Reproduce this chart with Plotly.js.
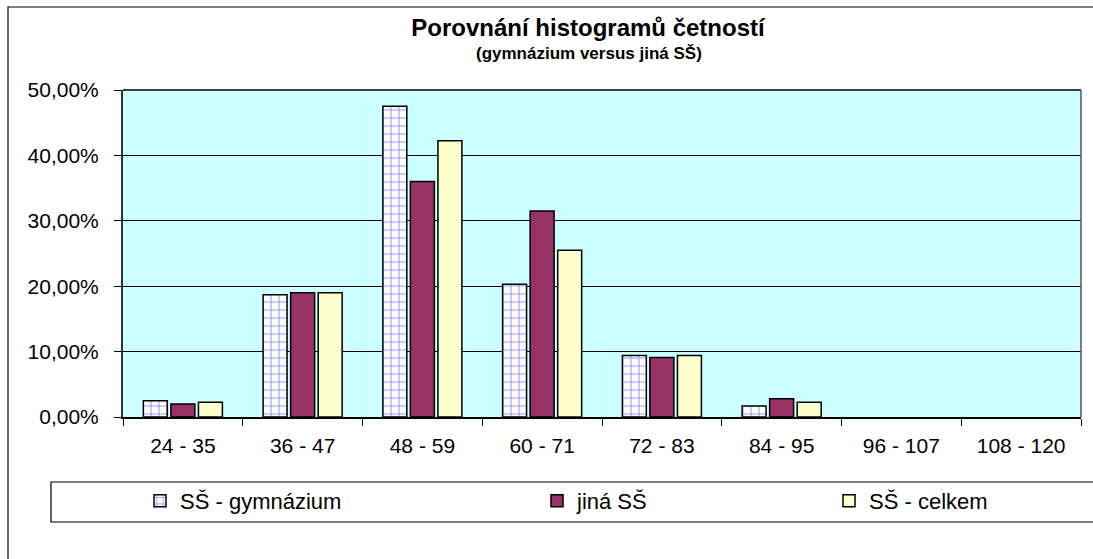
<!DOCTYPE html>
<html>
<head>
<meta charset="utf-8">
<script src="https://cdn.plot.ly/plotly-3.0.1.min.js"></script>
<style>html,body{margin:0;padding:0;background:#fff;}#chart{width:1093px;height:559px;}</style>
</head>
<body>
<div id="chart"></div>
<script>
// Data
const categories = ['24 - 35', '36 - 47', '48 - 59', '60 - 71', '72 - 83', '84 - 95', '96 - 107', '108 - 120'];
const gymnazium = [0.025, 0.187, 0.475, 0.203, 0.094, 0.017, 0, 0];
const jinaSS = [0.020, 0.190, 0.360, 0.315, 0.091, 0.028, 0, 0];
const celkem = [0.0225, 0.190, 0.4225, 0.255, 0.094, 0.0225, 0, 0];
const seriesNames = ['SŠ - gymnázium', 'jiná SŠ', 'SŠ - celkem'];
const titleText = 'Porovnání histogramů četností';
const subtitleText = '(gymnázium versus jiná SŠ)';

const FONT = 'Arial, "Liberation Sans", sans-serif';
// empty bins get no outline (Excel draws nothing for a zero bar)
const outlineFor = vals => ({color: '#000000', width: vals.map(v => (v > 0 ? 1.5 : 0))});

const traces = [
  {type: 'bar', name: seriesNames[0], x: categories, y: gymnazium, legend: 'legend',
   marker: {color: '#ffffff', line: outlineFor(gymnazium),
            pattern: {shape: '+', size: 8, solidity: 0.25, fgcolor: '#9999ff', bgcolor: '#ffffff'}}},
  {type: 'bar', name: seriesNames[1], x: categories, y: jinaSS, legend: 'legend2',
   marker: {color: '#993366', line: outlineFor(jinaSS)}},
  {type: 'bar', name: seriesNames[2], x: categories, y: celkem, legend: 'legend3',
   marker: {color: '#ffffcc', line: outlineFor(celkem)}}
];

const W = 1093, H = 559, L = 123, R = 12, T = 90, B = 142;
const pw = W - L - R, ph = H - T - B;
const px = x => (x - L) / pw;            // pixel x -> paper
const py = y => (H - B - y) / ph;        // pixel y -> paper

const legendFont = {family: FONT, size: 22, color: '#000000'};
function legendAt(xpix) {
  return {x: px(xpix), xanchor: 'left', y: py(501), yanchor: 'middle', orientation: 'h',
          bgcolor: 'rgba(0,0,0,0)', borderwidth: 0, font: legendFont, itemwidth: 30};
}

const layout = {
  width: W, height: H,
  margin: {l: L, r: R, t: T, b: B},
  paper_bgcolor: '#ffffff',
  plot_bgcolor: '#ccffff',
  separators: ', ',
  font: {family: FONT, color: '#000000'},
  title: {text: '<b>' + titleText + '</b>', xref: 'paper', x: px(588), xanchor: 'center',
          yref: 'container', y: 1 - 28 / H, yanchor: 'middle',
          font: {family: FONT, size: 24, color: '#000000'}},
  annotations: [
    {text: '<b>' + subtitleText + '</b>', xref: 'paper', yref: 'paper', x: px(589), y: py(53),
     xanchor: 'center', yanchor: 'middle', showarrow: false,
     font: {family: FONT, size: 17, color: '#000000'}}
  ],
  barmode: 'group',
  bargap: 0.31,
  bargroupgap: 0.13,
  showlegend: true,
  legend: legendAt(140),
  legend2: legendAt(537),
  legend3: legendAt(829),
  xaxis: {type: 'category', tickson: 'boundaries', ticks: 'outside', ticklen: 7, tickcolor: '#000000',
          tickwidth: 1, showline: true, linecolor: '#000000', linewidth: 1.5, showgrid: false,
          tickfont: {family: FONT, size: 21, color: '#000000'}, ticklabelstandoff: 9,
          fixedrange: true},
  yaxis: {range: [0, 0.5], dtick: 0.1, tick0: 0, tickformat: '.2%', ticks: 'outside', ticklen: 7,
          tickcolor: '#000000', tickwidth: 1, showline: true, linecolor: '#333333', linewidth: 2,
          showgrid: true, gridcolor: '#000000', gridwidth: 1, zeroline: false,
          tickfont: {family: FONT, size: 21, color: '#000000'}, ticklabelstandoff: 11,
          fixedrange: true},
  shapes: [
    // plot area border (top / right)
    {type: 'line', xref: 'paper', yref: 'paper', x0: 0, x1: 1, y0: 1, y1: 1, line: {color: '#000000', width: 1.5}},
    {type: 'line', xref: 'paper', yref: 'paper', x0: 1, x1: 1, y0: 0, y1: 1, line: {color: '#555555', width: 1.5}},
    // chart outer border
    {type: 'rect', xref: 'paper', yref: 'paper', x0: px(8), x1: px(1200), y0: py(7), y1: py(700),
     line: {color: '#000000', width: 1.2}, fillcolor: 'rgba(0,0,0,0)', layer: 'below'},
    // legend box
    {type: 'rect', xref: 'paper', yref: 'paper', x0: px(51), x1: px(1200), y0: py(482), y1: py(522),
     line: {color: '#000000', width: 1.2}, fillcolor: 'rgba(0,0,0,0)', layer: 'below'}
  ]
};

Plotly.newPlot('chart', traces, layout, {staticPlot: true, displayModeBar: false});
</script>
</body>
</html>
